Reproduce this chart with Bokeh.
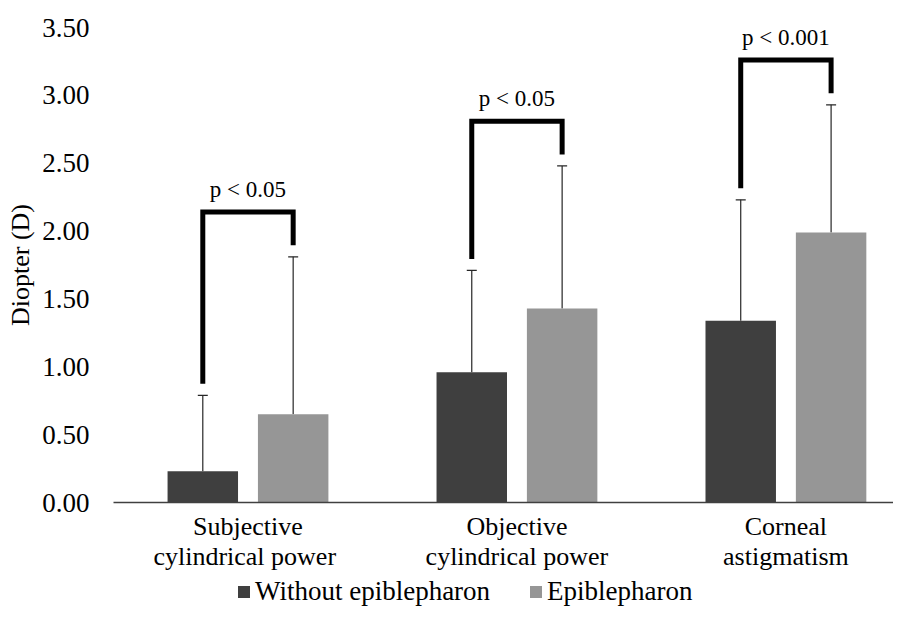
from bokeh.plotting import figure
from bokeh.models import (ColumnDataSource, Whisker, TeeHead, FixedTicker,
                          NumeralTickFormatter, Legend, LegendItem)
from bokeh.layouts import column
from bokeh.core.properties import value
from bokeh.embed import file_html
from bokeh.resources import INLINE

# ---------------- data ----------------
categories = ["Subjective\ncylindrical  power", "Objective\ncylindrical power", "Corneal\nastigmatism"]
series = ["Without epiblepharon", "Epiblepharon"]
without_mean = [0.23, 0.96, 1.34]
without_sd = [0.56, 0.75, 0.89]
epi_mean = [0.65, 1.43, 1.99]
epi_sd = [1.16, 1.05, 0.94]
p_labels = ["p < 0.05", "p < 0.05", "p < 0.001"]
y_ticks = [0.0, 0.5, 1.0, 1.5, 2.0, 2.5, 3.0, 3.5]

FONT = "Liberation Serif"
FS = "27px"
DARK = "#3f3f3f"
LIGHT = "#969696"
OFF = 0.168
BW = 0.262

idx = list(range(len(categories)))
x_dark = [i - OFF for i in idx]
x_light = [i + OFF for i in idx]

src_dark = ColumnDataSource(dict(x=x_dark, top=without_mean,
                                 upper=[m + s for m, s in zip(without_mean, without_sd)]))
src_light = ColumnDataSource(dict(x=x_light, top=epi_mean,
                                  upper=[m + s for m, s in zip(epi_mean, epi_sd)]))

p = figure(width=893, height=574, output_backend="svg", toolbar_location=None,
           x_range=(-0.5, 2.4), y_range=(0, 3.5),
           min_border_left=113, min_border_right=0, min_border_top=27, min_border_bottom=72)
p.outline_line_color = None
p.grid.visible = False
p.background_fill_color = "white"
p.border_fill_color = "white"

r1 = p.vbar(x="x", top="top", width=BW, source=src_dark, fill_color=DARK, line_color=None)
r2 = p.vbar(x="x", top="top", width=BW, source=src_light, fill_color=LIGHT, line_color=None)

for src in (src_dark, src_light):
    w = Whisker(source=src, base="x", lower="top", upper="upper", dimension="height",
                line_color="#262626", line_width=1.2,
                upper_head=TeeHead(size=10, line_color="#262626", line_width=1.2),
                lower_head=None)
    p.add_layout(w)

# significance brackets derived from the error-bar tops
gap, rise, lab = 0.085, 0.33, 0.17
xs, ys, lx, ly = [], [], [], []
for i in idx:
    ld = without_mean[i] + without_sd[i]
    rl = epi_mean[i] + epi_sd[i]
    top = max(ld, rl) + rise
    xs.append([x_dark[i], x_dark[i], x_light[i], x_light[i]])
    ys.append([ld + gap, top, top, rl + gap])
    lx.append(i)
    ly.append(top + lab)
p.multi_line(xs=xs, ys=ys, line_color="black", line_width=5,
             line_join="miter", line_cap="butt")
p.text(x=lx, y=ly, text=p_labels, text_align="center", text_baseline="middle",
       text_font=value(FONT), text_font_size="23px", text_color="black")

# axes
ya = p.yaxis[0]
ya.ticker = FixedTicker(ticks=y_ticks)
ya.formatter = NumeralTickFormatter(format="0.00")
ya.axis_line_color = None
ya.major_tick_line_color = None
ya.minor_tick_line_color = None
ya.major_tick_out = 0
ya.major_tick_in = 0
ya.minor_tick_out = 0
ya.minor_tick_in = 0
ya.major_label_standoff = 24
ya.major_label_text_font = FONT
ya.major_label_text_font_size = FS
ya.major_label_text_color = "black"
ya.axis_label = "Diopter (D)"
ya.axis_label_text_font = FONT
ya.axis_label_text_font_size = "26px"
ya.axis_label_text_font_style = "normal"
ya.axis_label_text_color = "black"
ya.axis_label_standoff = 4

xa = p.xaxis[0]
xa.ticker = FixedTicker(ticks=idx)
xa.major_label_overrides = {i: c for i, c in zip(idx, categories)}
xa.axis_line_color = "#404040"
xa.axis_line_width = 1.5
xa.major_tick_line_color = None
xa.minor_tick_line_color = None
xa.major_tick_out = 0
xa.major_tick_in = 0
xa.minor_tick_out = 0
xa.minor_tick_in = 0
xa.major_label_standoff = 9
xa.major_label_text_font = FONT
xa.major_label_text_font_size = "26px"
xa.major_label_text_color = "black"
xa.major_label_text_line_height = 1.05

# ---------------- legend strip ----------------
leg = figure(width=893, height=33, output_backend="svg", toolbar_location=None,
             x_range=(0, 1), y_range=(0, 1), min_border=0,
             x_axis_type=None, y_axis_type=None)
leg.grid.visible = False
leg.outline_line_color = None
leg.background_fill_color = "white"
leg.border_fill_color = "white"
# legend swatches only (zero-height, nothing drawn in the strip itself)
lr1 = leg.vbar(x=[0.5], top=[0], bottom=[0], width=0.0, fill_color=DARK, line_color=None)
lr2 = leg.vbar(x=[0.5], top=[0], bottom=[0], width=0.0, fill_color=LIGHT, line_color=None)
legend = Legend(items=[LegendItem(label=series[0], renderers=[lr1]),
                       LegendItem(label=series[1], renderers=[lr2])],
                orientation="horizontal", location=(123, 0),
                label_text_font=FONT, label_text_font_size=FS, label_text_color="black",
                glyph_width=15, glyph_height=15, label_standoff=4, spacing=38,
                padding=0, margin=0, border_line_color=None,
                background_fill_alpha=0)
leg.add_layout(legend, "center")

layout = column(p, leg, spacing=0)
open("out.html", "w").write(file_html(layout, INLINE))
